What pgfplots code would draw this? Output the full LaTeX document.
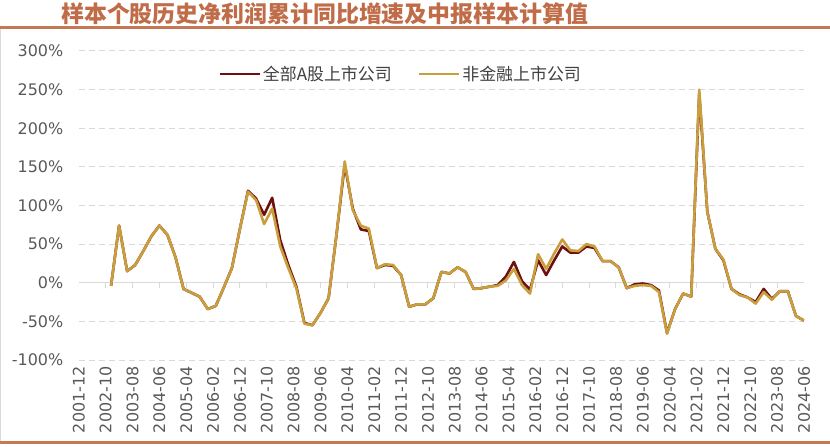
\documentclass[border=0pt]{standalone}
\usepackage{pgfplots}
\usepackage{pgfplotstable}
\pgfplotsset{compat=1.18}
\usepackage{fontspec}
\setmainfont{DejaVu Sans}
\newfontfamily\cjk{Noto Sans CJK SC}
\definecolor{darkred}{RGB}{110,16,16}
\definecolor{gold}{RGB}{201,158,60}
\definecolor{titlec}{RGB}{192,108,72}
\definecolor{rulec}{RGB}{196,120,84}
\definecolor{gridc}{RGB}{217,217,217}
\definecolor{tickc}{RGB}{89,89,89}

\pgfplotstableread{
m a b
12 -4 -4
15 74 74
18 15 15
21 23 23
24 41 41
27 60 60
30 74 74
33 62 62
36 33 33
39 -8 -8
42 -13 -13
45 -18 -18
48 -34 -34
51 -30 -30
54 -6 -6
57 19 19
60 70 70
63 119 118
66 109 107
69 88 76
72 110 96
75 55 47
78 23 19
81 -5 -7
84 -52 -53
87 -55 -55
90 -39 -39
93 -20 -20
96 64 64
99 153 157
102 96 94
105 69 74
108 67 70
111 19 19
114 23 24
117 22 23
120 10 10
123 -31 -31
126 -28 -28
129 -28 -28
132 -20 -20
135 14 14
138 12 12
141 20 20
144 14 14
147 -8 -8
150 -7 -7
153 -5 -5
156 -3 -4
159 8 3
162 27 18
165 2 -3
168 -9 -14
171 29 37
174 10 18
177 29 38
180 47 56
183 39 42
186 39 41
189 47 50
192 45 47
195 28 28
198 28 28
201 20 20
204 -7 -7
207 -2 -4
210 -1 -3
213 -3 -4
216 -10 -12
219 -65 -66
222 -34 -34
225 -14 -14
228 -18 -18
231 245 250
234 92 92
237 44 44
240 29 30
243 -8 -8
246 -15 -16
249 -19 -19
252 -25 -27
255 -8 -12
258 -21 -22
261 -11 -11
264 -11 -11
267 -43 -43
270 -49 -49
}\datatable

\begin{document}
\begin{tikzpicture}
\useasboundingbox (0bp,0bp) rectangle (830bp,447bp);
\fill[rulec] (0bp,418bp) rectangle (830bp,421bp);
\fill[rulec] (0bp,3bp) rectangle (830bp,6bp);
\draw[gridc, line width=0.8bp] (0.5bp,6bp) -- (0.5bp,418bp);
\node[anchor=west, text=titlec, font=\cjk\bfseries\fontsize{23}{23}\selectfont, inner sep=0pt] at (61bp,433bp) {样本个股历史净利润累计同比增速及中报样本计算值};
\begin{axis}[
  at={(78.8bp,87bp)}, anchor=south west,
  scale only axis, width=725.2bp, height=309bp,
  xmin=0, xmax=270, ymin=-100, ymax=300,
  axis line style={draw=none},
  major tick length=0pt,
  xtick={0,10,...,270},
  xticklabels={2001-12,2002-10,2003-08,2004-06,2005-04,2006-02,2006-12,2007-10,2008-08,2009-06,2010-04,2011-02,2011-12,2012-10,2013-08,2014-06,2015-04,2016-02,2016-12,2017-10,2018-08,2019-06,2020-04,2021-02,2021-12,2022-10,2023-08,2024-06},
  ytick={-100,-50,...,300},
  yticklabels={-100\%,-50\%,0\%,50\%,100\%,150\%,200\%,250\%,300\%},
  ymajorgrids,
  grid style={gridc, dash pattern=on 6bp off 4bp, line width=1bp},
  tick label style={font=\fontsize{16}{16}\selectfont, text=tickc},
  xticklabel style={rotate=90, anchor=east},
  xticklabel shift=3bp, yticklabel shift=12bp,
  legend style={at={(0.188,0.925)}, anchor=west, draw=none, fill=none,
    font=\cjk\fontsize{17}{17}\selectfont, text=black!75,
    /tikz/every even column/.append style={column sep=24bp}},
  legend columns=2,
  legend cell align=left,
  legend image code/.code={\draw[#1] (0bp,0bp) -- (40bp,0bp);},
]
\draw[gridc, line width=1.3bp] (axis cs:0,0) -- (axis cs:270,0);
\pgfplotsinvokeforeach{0,10,...,270}{\draw[gridc, line width=1bp] (axis cs:#1,0) -- ++(0bp,-5bp);}
\addplot[darkred, line width=2.6bp, line join=round] table[x=m, y=a] {\datatable};
\addlegendentry{全部A股上市公司}
\addplot[gold, line width=2.6bp, line join=round] table[x=m, y=b] {\datatable};
\addlegendentry{非金融上市公司}
\end{axis}
\end{tikzpicture}
\end{document}
